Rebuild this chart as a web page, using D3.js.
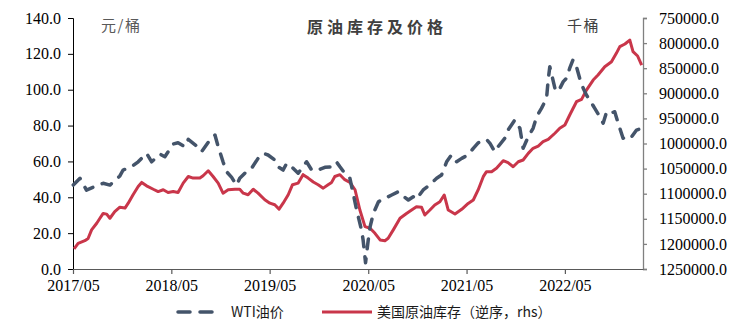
<!DOCTYPE html>
<html>
<head>
<meta charset="utf-8">
<script src="https://cdn.jsdelivr.net/npm/d3@7/dist/d3.min.js"></script>
<style>
  html, body { margin: 0; padding: 0; background: #fff; }
  svg { display: block; }
  .num { font-family: "Liberation Serif", "Times New Roman", serif; font-size: 16px; fill: #000; }
  .cjk { font-family: "Noto Sans CJK SC", sans-serif; }
</style>
</head>
<body>
<svg id="chart" width="753" height="325"></svg>
<script>
// WTI crude price (USD/bbl), weekly-ish observations
const wtiDates = [
  "2017-05-02","2017-05-27","2017-06-20","2017-07-15","2017-08-21","2017-09-15","2017-10-22","2017-11-03",
  "2017-12-04","2017-12-29","2018-01-29","2018-02-17","2018-03-20","2018-04-07","2018-05-08","2018-05-26",
  "2018-06-20","2018-07-03","2018-08-03","2018-08-21","2018-09-21","2018-10-10","2018-10-22","2018-11-09",
  "2018-11-22","2018-12-11","2018-12-29","2019-01-10","2019-02-04","2019-02-23","2019-03-19","2019-04-07",
  "2019-04-25","2019-05-20","2019-06-01","2019-06-20","2019-07-03","2019-07-27","2019-08-15","2019-09-15",
  "2019-10-04","2019-10-28","2019-11-22","2019-12-17","2020-01-04","2020-01-17","2020-02-04","2020-02-23",
  "2020-03-06","2020-03-19","2020-04-06","2020-04-12","2020-04-21","2020-05-01","2020-05-08","2020-05-20",
  "2020-06-08","2020-07-02","2020-07-27","2020-08-21","2020-09-02","2020-09-27","2020-10-15","2020-10-27",
  "2020-11-21","2020-12-10","2021-01-10","2021-01-28","2021-02-16","2021-03-06","2021-03-25","2021-04-13",
  "2021-05-07","2021-05-26","2021-06-13","2021-07-14","2021-07-27","2021-08-14","2021-08-26","2021-09-20",
  "2021-10-02","2021-10-27","2021-11-15","2021-11-27","2021-12-16","2022-01-03","2022-01-16","2022-02-03",
  "2022-02-22","2022-02-28","2022-03-06","2022-03-15","2022-03-25","2022-04-06","2022-04-25","2022-05-07",
  "2022-05-19","2022-05-31","2022-06-13","2022-06-25","2022-07-08","2022-07-20","2022-08-01","2022-08-20",
  "2022-09-08","2022-09-20","2022-10-03","2022-10-15","2022-11-02","2022-11-15","2022-12-03","2022-12-22",
  "2023-01-04","2023-01-22","2023-02-10"
];
const wtiValues = [
  46.8,50.6,44.0,45.6,47.8,46.8,51.9,55.2,
  57.0,59.8,64.5,59.8,64.1,62.6,69.7,70.4,
  68.2,72.3,68.6,65.4,71.9,74.7,68.2,59.8,
  54.3,51.1,46.8,50.6,54.3,56.2,61.7,64.5,
  63.6,60.8,57.0,55.2,58.9,56.2,53.4,59.8,
  55.2,55.2,56.7,57.0,59.8,57.0,53.4,50.6,
  42.2,32.9,21.8,16.2,3.5,16.2,23.6,31.0,
  37.5,39.4,41.3,43.1,41.3,38.5,40.3,38.9,
  44.1,46.3,50.6,52.4,59.8,63.6,59.8,61.7,
  63.6,67.3,70.4,72.3,70.1,65.4,68.2,72.9,
  77.5,83.1,78.5,67.3,73.8,78.5,84.9,89.6,
  95.2,105.4,112.8,107.2,100.8,98.9,104.5,106.4,
  112.0,116.6,112.8,106.4,100.8,97.0,94.3,89.6,
  84.9,81.3,87.7,86.8,87.7,81.3,72.9,74.7,
  73.8,77.5,78.5
];

// US commercial + SPR crude stocks (thousand barrels), plotted on a reversed right axis
const stockDates = [
  "2017-05-05","2017-05-20","2017-06-14","2017-06-26","2017-07-09","2017-07-28","2017-08-09","2017-08-21",
  "2017-09-03","2017-09-15","2017-10-03","2017-10-22","2017-11-10","2017-11-22","2017-12-10","2017-12-29",
  "2018-01-11","2018-01-29","2018-02-23","2018-03-13","2018-04-01","2018-04-19","2018-05-08","2018-05-26",
  "2018-06-14","2018-07-03","2018-07-21","2018-08-15","2018-08-27","2018-09-15","2018-10-03","2018-10-22",
  "2018-11-09","2018-11-28","2018-12-23","2019-01-10","2019-01-23","2019-02-10","2019-03-01","2019-03-19",
  "2019-04-13","2019-05-02","2019-05-20","2019-06-05","2019-06-20","2019-07-09","2019-07-25","2019-08-15",
  "2019-09-02","2019-09-21","2019-10-10","2019-10-28","2019-11-16","2019-12-04","2019-12-17","2019-12-29",
  "2020-01-17","2020-02-04","2020-02-23","2020-03-13","2020-03-31","2020-04-19","2020-05-08","2020-05-26",
  "2020-06-14","2020-07-02","2020-07-14","2020-08-02","2020-08-27","2020-09-20","2020-10-09","2020-10-27",
  "2020-11-15","2020-11-27","2020-12-16","2021-01-03","2021-01-22","2021-02-07","2021-02-22","2021-03-19",
  "2021-04-13","2021-05-07","2021-05-26","2021-06-13","2021-07-02","2021-07-14","2021-08-02","2021-08-20",
  "2021-09-14","2021-10-02","2021-10-21","2021-11-09","2021-11-27","2021-12-16","2022-01-03","2022-01-22",
  "2022-02-09","2022-02-28","2022-03-25","2022-04-12","2022-05-01","2022-05-19","2022-06-13","2022-07-02",
  "2022-07-20","2022-08-14","2022-09-01","2022-09-26","2022-10-21","2022-11-08","2022-11-21","2022-12-10",
  "2022-12-28","2023-01-09","2023-01-26","2023-02-10"
];
const stockValues = [
  1210000,1198900,1193600,1189300,1172100,1158900,1148900,1139300,
  1140700,1148900,1135700,1126800,1128600,1118900,1102100,1085700,
  1077500,1084300,1091100,1095700,1092100,1097500,1095700,1097500,
  1078900,1065700,1068900,1068900,1064300,1054300,1065700,1078900,
  1098900,1092100,1091100,1091100,1098900,1102100,1091100,1098900,
  1112100,1118900,1122100,1130700,1118900,1102100,1082100,1078900,
  1062100,1068900,1076800,1082100,1088900,1082100,1077500,1065700,
  1062100,1072100,1077500,1092100,1132500,1165700,1168900,1178900,
  1192100,1193600,1188900,1172100,1148900,1139300,1132500,1126100,
  1127100,1142500,1132500,1122500,1116100,1102500,1132500,1140400,
  1131100,1119300,1112500,1092500,1066100,1056100,1056100,1049300,
  1034300,1038200,1046400,1036400,1032900,1019600,1009600,1005000,
  996400,991800,979600,969600,963200,943200,916800,912100,
  893600,873600,863600,847100,837100,820400,807100,801800,
  793900,817100,825700,843900
];

// Axis tick values
const leftTicks = [0, 20, 40, 60, 80, 100, 120, 140];
const rightTicks = [750000, 800000, 850000, 900000, 950000, 1000000, 1050000, 1100000, 1150000, 1200000, 1250000];
const xTickLabels = ["2017/05", "2018/05", "2019/05", "2020/05", "2021/05", "2022/05"];

// Text
const titleText = "原油库存及价格";
const leftUnit = "元/桶";
const rightUnit = "千桶";
const seriesNames = ["WTI油价", "美国原油库存（逆序，rhs）"];

const colors = { wti: "#44546A", stock: "#C9364A" };

const parseDay = d3.timeParse("%Y-%m-%d");
const parseTick = d3.timeParse("%Y/%m");

const wti = wtiDates.map((d, i) => ({ date: parseDay(d), value: wtiValues[i] }));
const stock = stockDates.map((d, i) => ({ date: parseDay(d), value: stockValues[i] }));

const plot = { left: 73, right: 643, top: 18, bottom: 269 };

const x = d3.scaleTime()
  .domain([parseDay("2017-05-01"), parseDay("2023-02-15")])
  .range([plot.left, plot.right]);
const yL = d3.scaleLinear().domain([0, 140]).range([plot.bottom, plot.top]);
const yR = d3.scaleLinear().domain([750000, 1250000]).range([plot.top, plot.bottom]);

const svg = d3.select("#chart");

// Left axis
const gL = svg.append("g")
  .attr("transform", `translate(${plot.left},0)`)
  .call(d3.axisLeft(yL).tickValues(leftTicks).tickFormat(d3.format(".1f")).tickSize(5).tickPadding(7));
gL.selectAll("text").attr("class", "num");
gL.selectAll("line, path").attr("stroke", "#000").attr("stroke-width", 1);

// Right axis (reversed inventory)
const gR = svg.append("g")
  .attr("transform", `translate(${plot.right},0)`)
  .call(d3.axisRight(yR).tickValues(rightTicks).tickFormat(d3.format(".1f")).tickSize(4).tickPadding(12));
gR.selectAll("text").attr("class", "num");
gR.selectAll("line, path").attr("stroke", "#808080").attr("stroke-width", 1.3);

// Bottom axis
const gB = svg.append("g")
  .attr("transform", `translate(0,${plot.bottom})`)
  .call(d3.axisBottom(x)
    .tickValues(xTickLabels.map(parseTick))
    .tickFormat(d3.timeFormat("%Y/%m"))
    .tickSize(5).tickPadding(6)
    .tickSizeOuter(0));
gB.selectAll("text").attr("class", "num");
gB.selectAll("line, path").attr("stroke", "#595959").attr("stroke-width", 1.2);

// Series
const lineStock = d3.line().x(d => x(d.date)).y(d => yR(d.value));
const lineWti = d3.line().x(d => x(d.date)).y(d => yL(d.value));

svg.append("path")
  .datum(stock)
  .attr("d", lineStock)
  .attr("fill", "none")
  .attr("stroke", colors.stock)
  .attr("stroke-width", 3)
  .attr("stroke-linejoin", "round");

svg.append("path")
  .datum(wti)
  .attr("d", lineWti)
  .attr("fill", "none")
  .attr("stroke", colors.wti)
  .attr("stroke-width", 3.5)
  .attr("stroke-linecap", "round")
  .attr("stroke-linejoin", "round")
  .attr("stroke-dasharray", "10,10");

// Title and units
svg.append("text")
  .attr("class", "cjk")
  .attr("x", 377).attr("y", 33)
  .attr("text-anchor", "middle")
  .attr("font-size", 16).attr("font-weight", 700)
  .attr("letter-spacing", 4)
  .attr("fill", "#404040")
  .text(titleText);

svg.append("text")
  .attr("class", "cjk")
  .attr("x", 101).attr("y", 31)
  .attr("font-size", 15)
  .attr("letter-spacing", 1.5)
  .attr("fill", "#595959")
  .text(leftUnit);

svg.append("text")
  .attr("class", "cjk")
  .attr("x", 567).attr("y", 31)
  .attr("font-size", 15)
  .attr("letter-spacing", 1.5)
  .attr("fill", "#404040")
  .text(rightUnit);

// Legend
const legend = svg.append("g");
legend.append("line")
  .attr("x1", 178).attr("x2", 214).attr("y1", 312).attr("y2", 312)
  .attr("stroke", colors.wti).attr("stroke-width", 3.5)
  .attr("stroke-linecap", "round")
  .attr("stroke-dasharray", "12,10");
legend.append("text")
  .attr("class", "cjk")
  .attr("x", 231).attr("y", 317)
  .attr("font-size", 14)
  .attr("fill", "#1a1a1a")
  .text(seriesNames[0]);
legend.append("line")
  .attr("x1", 322).attr("x2", 372).attr("y1", 312).attr("y2", 312)
  .attr("stroke", colors.stock).attr("stroke-width", 3);
legend.append("text")
  .attr("class", "cjk")
  .attr("x", 377).attr("y", 317)
  .attr("font-size", 14)
  .attr("fill", "#1a1a1a")
  .text(seriesNames[1]);
</script>
</body>
</html>
